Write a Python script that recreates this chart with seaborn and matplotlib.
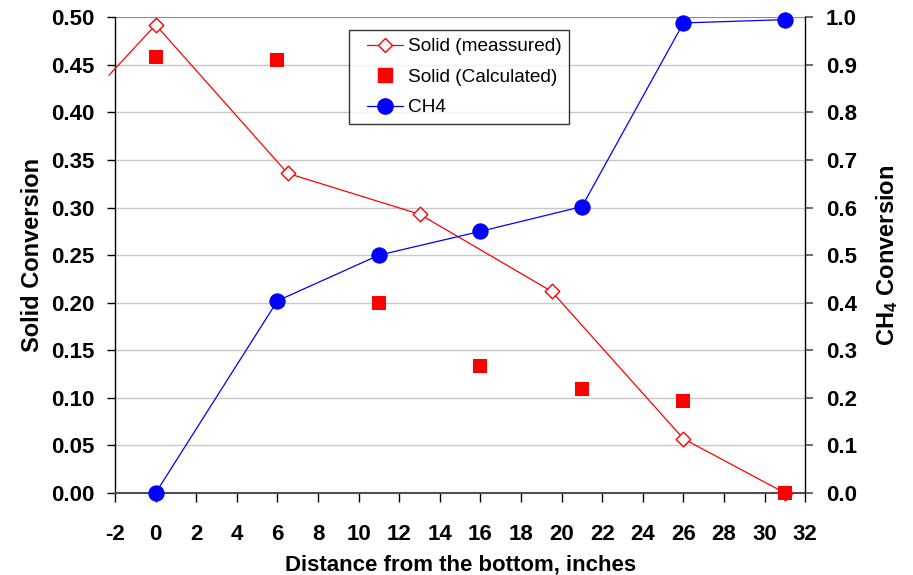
import matplotlib
matplotlib.use("Agg")
import matplotlib.pyplot as plt
import seaborn as sns
import pandas as pd
from matplotlib.lines import Line2D
from matplotlib.legend_handler import HandlerLine2D

sns.set_theme(style="white")
plt.rcParams['font.family'] = ['Liberation Sans', 'DejaVu Sans']
plt.rcParams['text.color'] = 'black'
plt.rcParams['axes.labelcolor'] = 'black'
plt.rcParams['xtick.color'] = 'black'
plt.rcParams['ytick.color'] = 'black'
plt.rcParams['mathtext.fontset'] = 'custom'
plt.rcParams['mathtext.rm'] = 'Liberation Sans:bold'
plt.rcParams['mathtext.bf'] = 'Liberation Sans:bold'
plt.rcParams['mathtext.default'] = 'bf'

# Data
meas_x = [-2.3, 0, 6.5, 13, 19.5, 26, 31]
meas_y = [0.439, 0.492, 0.336, 0.293, 0.212, 0.057, 0.0]
calc_x = [0, 6, 11, 16, 21, 26, 31]
calc_y = [0.458, 0.455, 0.200, 0.134, 0.109, 0.097, 0.0]
ch4_x = [0, 6, 11, 16, 21, 26, 31]
ch4_y = [0.0, 0.404, 0.500, 0.550, 0.602, 0.988, 0.995]
x_ticks = list(range(-2, 33, 2))
left_ticks = [i * 0.05 for i in range(11)]
right_ticks = [i * 0.1 for i in range(11)]

meas = pd.DataFrame({"x": meas_x, "y": meas_y})
calc = pd.DataFrame({"x": calc_x, "y": calc_y})
ch4 = pd.DataFrame({"x": ch4_x, "y": ch4_y})

fig = plt.figure(figsize=(9.13, 5.75), dpi=100)
ax = fig.add_axes([0.126, 0.1426, 0.756, 0.8274])
ax2 = ax.twinx()

red = "#FF0000"
blue = "#0000FF"

# Measured line (extends slightly beyond left edge)
sns.lineplot(data=meas, x="x", y="y", ax=ax, color=red, lw=0.9, sort=False,
             estimator=None, clip_on=False, zorder=3)
sns.scatterplot(data=meas.iloc[1:], x="x", y="y", ax=ax, marker="D", s=55,
                facecolor="white", edgecolor=red, linewidth=1.0, zorder=4, clip_on=False)
sns.scatterplot(data=calc, x="x", y="y", ax=ax, marker="s", s=110,
                color=red, edgecolor=red, linewidth=0, zorder=5, clip_on=False)

sns.lineplot(data=ch4, x="x", y="y", ax=ax2, color=blue, lw=0.9, estimator=None,
             marker="o", markersize=11, markeredgecolor=blue, markerfacecolor=blue,
             clip_on=False, zorder=3)

ax.set_xlim(-2, 32)
ax.set_ylim(0, 0.5)
ax2.set_ylim(0, 1.0)
ax.set_xticks(x_ticks)
ax.set_xticklabels([str(t) for t in x_ticks])
ax.set_yticks(left_ticks)
ax.set_yticklabels([f"{t:.2f}" for t in left_ticks])
ax2.set_yticks(right_ticks)
ax2.set_yticklabels([f"{t:.1f}" for t in right_ticks])

ax.grid(axis="y", color="#C8C8C8", lw=1.0)
ax.set_axisbelow(True)
ax.grid(axis="x", visible=False)
ax.axhline(0.5, color="#808080", lw=1.2, zorder=1)

for a in (ax, ax2):
    a.spines["top"].set_visible(False)
ax.spines["right"].set_visible(False)
ax2.spines["left"].set_visible(False)
ax2.spines["bottom"].set_visible(False)
ax.spines["left"].set_color("black")
ax.spines["left"].set_linewidth(1.0)
ax.spines["bottom"].set_color("#505050")
ax.spines["bottom"].set_linewidth(1.5)
ax2.spines["right"].set_color("black")
ax2.spines["right"].set_linewidth(1.0)

ax.tick_params(axis="x", direction="out", length=6.5, width=1, color="black",
               labelsize=16, pad=15.5, bottom=True, labelcolor="black")
ax.tick_params(axis="y", direction="out", length=6, width=1, color="black",
               labelsize=16, pad=9, left=True, labelcolor="black")
ax2.tick_params(axis="y", direction="out", length=6, width=1.2, color="#505050",
                labelsize=16, pad=9, right=True, labelcolor="black")
for lab in ax.get_xticklabels() + ax.get_yticklabels() + ax2.get_yticklabels():
    lab.set_fontweight("bold")

ax.set_xlabel("Distance from the bottom, inches", fontsize=16, fontweight="bold",
              labelpad=7.5, color="black")
ax.set_ylabel("Solid Conversion", fontsize=17, fontweight="bold", labelpad=5, color="black")
ax2.set_ylabel("CH$_4$ Conversion", fontsize=17, fontweight="bold", labelpad=12, color="black")


class ShiftedHandler(HandlerLine2D):
    def create_artists(self, legend, orig_handle, xdescent, ydescent, width, height,
                       fontsize, trans):
        shift = 0.22 * width
        return super().create_artists(legend, orig_handle, xdescent - shift, ydescent,
                                      width - shift, height, fontsize, trans)


handles = [
    Line2D([0], [0], color=red, lw=0.9, marker="D", markersize=7.5,
           markerfacecolor="white", markeredgecolor=red),
    Line2D([0], [0], color=red, lw=0, marker="s", markersize=10,
           markerfacecolor=red, markeredgecolor=red),
    Line2D([0], [0], color=blue, lw=0.9, marker="o", markersize=11,
           markerfacecolor=blue, markeredgecolor=blue),
]
labels = ["Solid (meassured)", "Solid (Calculated)", "CH4"]
hmap = {h: ShiftedHandler() for h in handles}
leg = ax2.legend(handles, labels, loc="upper left", bbox_to_anchor=(0.339, 0.9727),
                 borderaxespad=0, frameon=True, fancybox=False, edgecolor="black",
                 fontsize=13.7, handlelength=2.42, borderpad=0.4, labelspacing=0.7,
                 handletextpad=0.26, handler_map=hmap)
leg.get_frame().set_linewidth(1.0)
for t in leg.get_texts():
    t.set_color("black")

fig.savefig("out.png", dpi=100)
